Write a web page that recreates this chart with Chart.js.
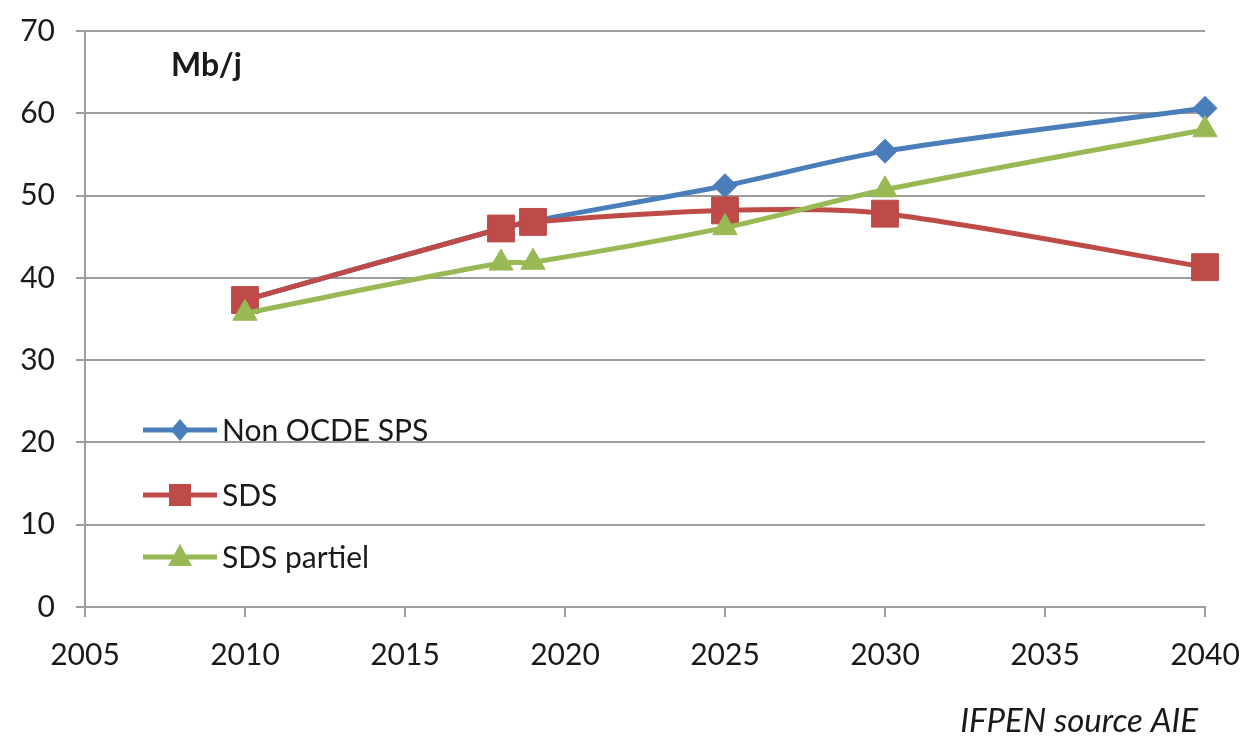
<!DOCTYPE html>
<html>
<head>
<meta charset="utf-8">
<style>
  html, body { margin: 0; padding: 0; background: #fff; }
  #wrap { width: 1247px; height: 736px; position: relative; }
</style>
<script src="https://cdn.jsdelivr.net/npm/chart.js@4/dist/chart.umd.min.js"></script>
</head>
<body>
<div id="wrap"><canvas id="c" width="1247" height="736"></canvas></div>
<script>
// Years on the x axis
const years = [2010, 2018, 2019, 2025, 2030, 2040];

// Oil demand, Mb/j
const nonOcdeSps = [37.3, 46.0, 46.9, 51.2, 55.4, 60.6];
const sds        = [37.3, 46.0, 46.8, 48.2, 47.8, 41.3];
const sdsPartiel = [35.7, 41.8, 41.9, 46.1, 50.7, 58.0];

const seriesNames = ['Non OCDE SPS', 'SDS', 'SDS partiel'];

const xTicks = [2005, 2010, 2015, 2020, 2025, 2030, 2035, 2040];
const yTicks = [0, 10, 20, 30, 40, 50, 60, 70];

const unitLabel = 'Mb/j';
const sourceLabel = 'IFPEN source AIE';

const FONT = 'Lato, "Open Sans", "Liberation Sans", sans-serif';
const GRID = '#9d9d9d';

function pts(vals) { return years.map((y, i) => ({ x: y, y: vals[i] })); }

function drawMarker(ctx, style, r, x, y) {
  if (style === 'rectRot') {
    ctx.moveTo(x, y - r); ctx.lineTo(x + r * 0.85, y); ctx.lineTo(x, y + r); ctx.lineTo(x - r * 0.85, y); ctx.closePath();
  } else if (style === 'rect') {
    ctx.rect(x - r, y - r, 2 * r, 2 * r);
  } else {
    ctx.moveTo(x, y - r * 1.1); ctx.lineTo(x + r, y + r * 0.75); ctx.lineTo(x - r, y + r * 0.75); ctx.closePath();
  }
}

// Legend drawn inside the plot area, plus the unit and source captions
const innerLegend = {
  id: 'innerLegend',
  afterDatasetsDraw(chart) {
    const ctx = chart.ctx;
    const rows = [430, 495, 557];
    const x0 = 143, x1 = 217, xm = 180;
    ctx.save();
    chart.data.datasets.forEach((ds, i) => {
      const y = rows[i];
      ctx.strokeStyle = ds.borderColor;
      ctx.lineWidth = 5;
      ctx.beginPath(); ctx.moveTo(x0, y); ctx.lineTo(x1, y); ctx.stroke();
      ctx.fillStyle = ds.pointBackgroundColor;
      ctx.beginPath();
      drawMarker(ctx, ds.pointStyle, ds.legendRadius, xm, y);
      ctx.fill();
      ctx.fillStyle = '#1a1a1a';
      ctx.font = '30px ' + FONT;
      ctx.textAlign = 'left';
      ctx.textBaseline = 'middle';
      ctx.fillText(ds.label, 222, y + 1);
    });
    ctx.fillStyle = '#1a1a1a';
    ctx.font = 'bold 32px ' + FONT;
    ctx.textAlign = 'left';
    ctx.textBaseline = 'middle';
    ctx.fillText(unitLabel, 171, 66);
    ctx.font = 'italic 33px ' + FONT;
    ctx.textAlign = 'right';
    ctx.fillText(sourceLabel, 1198, 721);
    ctx.restore();
  }
};

const colors = ['#4a7ebb', '#be4b48', '#98b954'];
const styles = ['rectRot', 'rect', 'triangle'];
const radii = [12, 19, 14];
const legendRadii = [11, 11, 12];
const values = [nonOcdeSps, sds, sdsPartiel];

new Chart(document.getElementById('c'), {
  type: 'line',
  data: {
    datasets: values.map((v, i) => ({
      label: seriesNames[i],
      data: pts(v),
      borderColor: colors[i],
      backgroundColor: colors[i],
      pointBackgroundColor: colors[i],
      pointBorderColor: colors[i],
      pointStyle: styles[i],
      pointRadius: radii[i],
      pointBorderWidth: 1,
      legendRadius: legendRadii[i],
      borderWidth: 5,
      tension: 0.3,
      fill: false,
      clip: false,
      order: 3 - i
    }))
  },
  options: {
    responsive: false,
    animation: false,
    events: [],
    layout: { autoPadding: false, padding: { left: 0, right: 42, top: 31, bottom: 0 } },
    plugins: {
      legend: { display: false },
      tooltip: { enabled: false },
      title: { display: false }
    },
    scales: {
      x: {
        type: 'linear',
        min: xTicks[0],
        max: xTicks[xTicks.length - 1],
        afterBuildTicks(axis) { axis.ticks = xTicks.map(v => ({ value: v })); },
        afterFit(axis) {
          axis.height = 736 - 607;
          axis.paddingLeft = 0;
          axis.paddingRight = 0;
        },
        ticks: {
          color: '#1a1a1a',
          font: { family: FONT, size: 30 },
          padding: 20,
          maxRotation: 0,
          callback: v => String(v)
        },
        grid: {
          display: true,
          drawOnChartArea: false,
          drawTicks: true,
          tickLength: 10,
          color: GRID,
          lineWidth: 2
        },
        border: { display: true, color: GRID, width: 2 }
      },
      y: {
        min: yTicks[0],
        max: yTicks[yTicks.length - 1],
        afterBuildTicks(axis) { axis.ticks = yTicks.map(v => ({ value: v })); },
        afterFit(axis) {
          axis.width = 85;
          axis.paddingTop = 0;
          axis.paddingBottom = 0;
        },
        ticks: {
          color: '#1a1a1a',
          font: { family: FONT, size: 30 },
          padding: 21,
          callback: v => String(v)
        },
        grid: {
          color: GRID,
          lineWidth: 2,
          drawTicks: true,
          tickLength: 9
        },
        border: { display: true, color: GRID, width: 2 }
      }
    }
  },
  plugins: [innerLegend]
});
</script>
</body>
</html>
